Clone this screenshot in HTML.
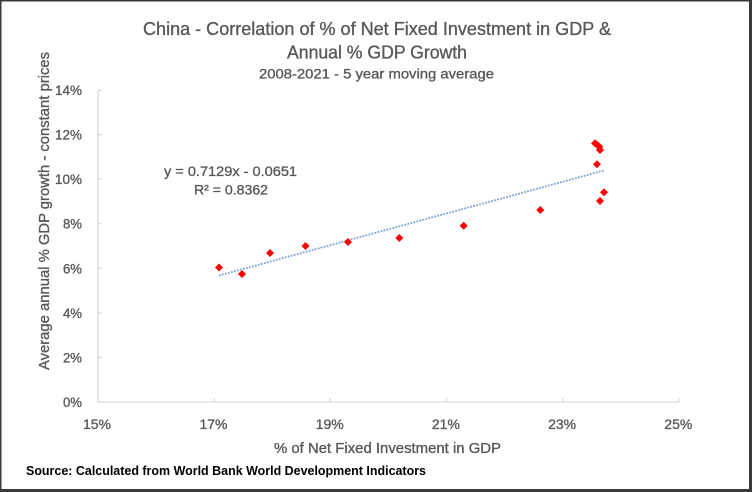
<!DOCTYPE html>
<html><head><meta charset="utf-8"><style>
html,body{margin:0;padding:0;background:#fff;}
svg{display:block;}
text{font-family:"Liberation Sans",sans-serif;}
.g{fill:#595959;stroke:#595959;stroke-width:0.35;}
</style></head><body>
<svg width="752" height="492" viewBox="0 0 752 492" xmlns="http://www.w3.org/2000/svg">
<rect x="0" y="0" width="752" height="492" fill="#fff"/>
<!-- border -->
<rect x="0.75" y="0.75" width="749.5" height="489.5" fill="none" stroke="#3a3a3a" stroke-width="1.5"/>
<line x1="750.5" y1="0" x2="750.5" y2="492" stroke="#3a3a3a" stroke-width="3"/>
<line x1="0" y1="490.5" x2="752" y2="490.5" stroke="#3a3a3a" stroke-width="3"/>

<!-- titles -->
<text class="g" x="377" y="35" font-size="18" text-anchor="middle" textLength="468" lengthAdjust="spacingAndGlyphs">China - Correlation of % of Net Fixed Investment in GDP &amp;</text>
<text class="g" x="377" y="58.5" font-size="18" text-anchor="middle" textLength="180" lengthAdjust="spacingAndGlyphs">Annual % GDP Growth</text>
<text class="g" x="376.5" y="78.5" font-size="14" text-anchor="middle" textLength="235" lengthAdjust="spacingAndGlyphs">2008-2021 - 5 year moving average</text>

<!-- axes -->
<g stroke="#d9d9d9" stroke-width="1.2" fill="none">
<line x1="98" y1="90" x2="98" y2="402"/>
<line x1="98" y1="402" x2="679" y2="402"/>
<line x1="98" y1="90" x2="102" y2="90"/>
<line x1="98" y1="134.6" x2="102" y2="134.6"/>
<line x1="98" y1="179.1" x2="102" y2="179.1"/>
<line x1="98" y1="223.7" x2="102" y2="223.7"/>
<line x1="98" y1="268.3" x2="102" y2="268.3"/>
<line x1="98" y1="312.9" x2="102" y2="312.9"/>
<line x1="98" y1="357.4" x2="102" y2="357.4"/>
<line x1="214.2" y1="398" x2="214.2" y2="402"/>
<line x1="330.4" y1="398" x2="330.4" y2="402"/>
<line x1="446.6" y1="398" x2="446.6" y2="402"/>
<line x1="562.8" y1="398" x2="562.8" y2="402"/>
<line x1="679" y1="398" x2="679" y2="402"/>
</g>

<!-- y tick labels -->
<g font-size="14" text-anchor="end">
<text class="g" x="82" y="95" textLength="27" lengthAdjust="spacingAndGlyphs">14%</text>
<text class="g" x="82" y="139.6" textLength="27" lengthAdjust="spacingAndGlyphs">12%</text>
<text class="g" x="82" y="184.1" textLength="27" lengthAdjust="spacingAndGlyphs">10%</text>
<text class="g" x="82" y="228.7" textLength="19" lengthAdjust="spacingAndGlyphs">8%</text>
<text class="g" x="82" y="273.3" textLength="19" lengthAdjust="spacingAndGlyphs">6%</text>
<text class="g" x="82" y="317.9" textLength="19" lengthAdjust="spacingAndGlyphs">4%</text>
<text class="g" x="82" y="362.4" textLength="19" lengthAdjust="spacingAndGlyphs">2%</text>
<text class="g" x="82" y="407" textLength="19" lengthAdjust="spacingAndGlyphs">0%</text>
</g>

<!-- x tick labels -->
<g font-size="14" text-anchor="middle">
<text class="g" x="97" y="429" textLength="28" lengthAdjust="spacingAndGlyphs">15%</text>
<text class="g" x="213.5" y="429" textLength="28" lengthAdjust="spacingAndGlyphs">17%</text>
<text class="g" x="329.7" y="429" textLength="28" lengthAdjust="spacingAndGlyphs">19%</text>
<text class="g" x="445.9" y="429" textLength="28" lengthAdjust="spacingAndGlyphs">21%</text>
<text class="g" x="562.1" y="429" textLength="28" lengthAdjust="spacingAndGlyphs">23%</text>
<text class="g" x="678.3" y="429" textLength="28" lengthAdjust="spacingAndGlyphs">25%</text>
</g>

<!-- axis titles -->
<text class="g" x="387.5" y="453" font-size="15" text-anchor="middle" textLength="227" lengthAdjust="spacingAndGlyphs">% of Net Fixed Investment in GDP</text>
<text class="g" transform="translate(49,211) rotate(-90)" x="0" y="0" font-size="15" text-anchor="middle" textLength="318" lengthAdjust="spacingAndGlyphs">Average annual % GDP growth - constant prices</text>

<!-- source -->
<text x="26" y="475" font-size="13" font-weight="bold" fill="#000" textLength="400" lengthAdjust="spacingAndGlyphs">Source: Calculated  from World Bank World Development Indicators</text>

<!-- trendline -->
<line x1="219" y1="275.5" x2="604" y2="170.5" stroke="#7aa3d6" stroke-width="1.8" stroke-dasharray="1.8 1.3"/>

<!-- equation -->
<text class="g" x="230.5" y="176" font-size="14" text-anchor="middle" textLength="133" lengthAdjust="spacingAndGlyphs">y = 0.7129x - 0.0651</text>
<text class="g" x="231" y="194.5" font-size="14" text-anchor="middle" textLength="74" lengthAdjust="spacingAndGlyphs">R² = 0.8362</text>

<!-- markers -->
<g fill="#ff0000">
<path d="M219 263.5 L223 267.5 L219 271.5 L215 267.5Z"/>
<path d="M242 270 L246 274 L242 278 L238 274Z"/>
<path d="M270 249 L274 253 L270 257 L266 253Z"/>
<path d="M305.5 242 L309.5 246 L305.5 250 L301.5 246Z"/>
<path d="M348 238 L352 242 L348 246 L344 242Z"/>
<path d="M399.3 234 L403.3 238 L399.3 242 L395.3 238Z"/>
<path d="M463.7 221.7 L467.7 225.7 L463.7 229.7 L459.7 225.7Z"/>
<path d="M540.3 206 L544.3 210 L540.3 214 L536.3 210Z"/>
<path d="M595 139.3 L599 143.3 L595 147.3 L591 143.3Z"/>
<path d="M597.3 141 L601.3 145 L597.3 149 L593.3 145Z"/>
<path d="M599.3 142.7 L603.3 146.7 L599.3 150.7 L595.3 146.7Z"/>
<path d="M600 146 L604 150 L600 154 L596 150Z"/>
<path d="M597 160.3 L601 164.3 L597 168.3 L593 164.3Z"/>
<path d="M604 188.3 L608 192.3 L604 196.3 L600 192.3Z"/>
<path d="M600 197 L604 201 L600 205 L596 201Z"/>
</g>
</svg>
</body></html>
